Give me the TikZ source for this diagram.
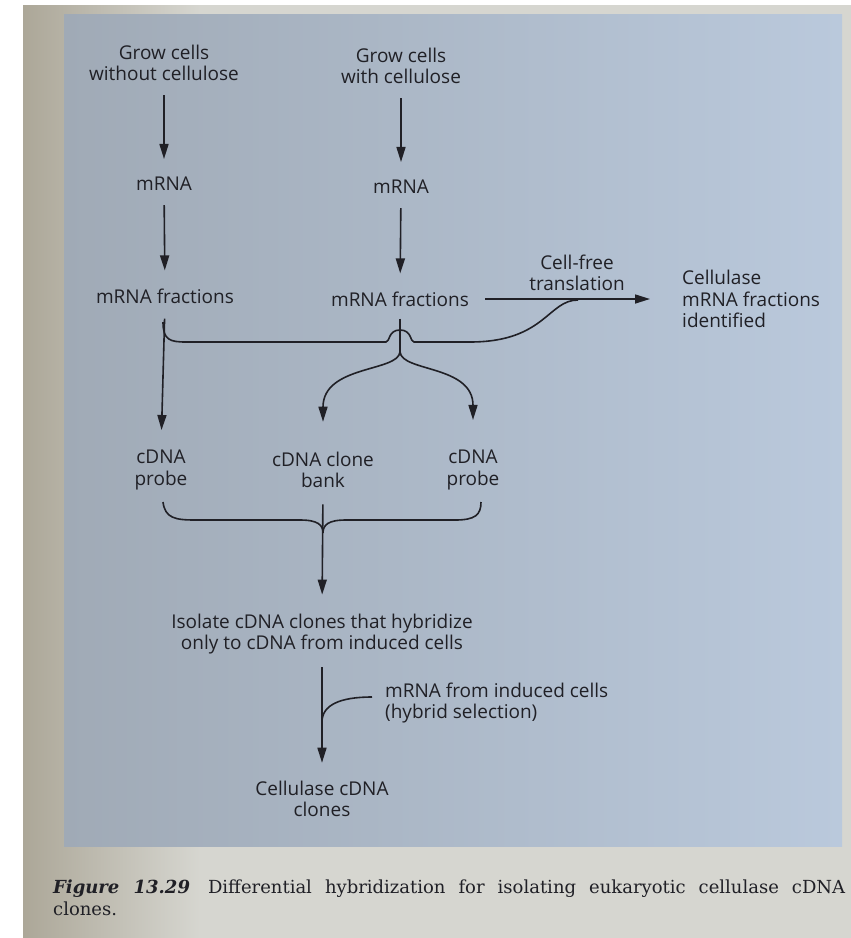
\documentclass[tikz,border=0pt]{standalone}
\usepackage{fontspec}
\setmainfont{DejaVu Serif}
\setsansfont{Open Sans}
\usetikzlibrary{arrows.meta}
\definecolor{ink}{RGB}{32,32,38}
\definecolor{pagegray}{RGB}{214,214,208}
\definecolor{pageshadow}{RGB}{172,167,152}
\definecolor{blueleft}{RGB}{160,170,182}
\definecolor{blueright}{RGB}{186,201,220}
\begin{document}
\begin{tikzpicture}[x=1pt,y=-1pt,
  lbl/.style={font=\sffamily\fontsize{19}{21.5}\selectfont,text=ink,align=center,inner sep=0pt},
  line/.style={draw=ink,line width=1.6pt},
  arr/.style={line,-{Triangle[length=15pt,width=9pt]},shorten <=14pt,shorten >=18pt}]
\useasboundingbox (0,0) rectangle (851,938);
\fill[white] (0,0) rectangle (851,938);
\shade[left color=pageshadow,right color=pagegray] (23,5) rectangle (200,938);
\fill[pagegray] (200,5) rectangle (851,938);
\shade[left color=blueleft,right color=blueright] (64,14) rectangle (842,846);

\node[lbl] (gw) at (164,63) {Grow cells\\without cellulose};
\node[lbl] (m1) at (164,184) {mRNA};
\node[lbl] (f1) at (165,296) {mRNA fractions};
\node[lbl] (gc) at (401,66) {Grow cells\\with cellulose};
\node[lbl] (m2) at (401,187) {mRNA};
\node[lbl] (f2) at (400,299) {mRNA fractions};
\node[lbl] (cft) at (577,273) {Cell-free\\translation};
\node[lbl,anchor=west,align=left] (ident) at (682,299) {Cellulase\\mRNA fractions\\identified};
\node[lbl] (p1) at (161,470) {cDNA\\probe};
\node[lbl] (bank) at (323,470) {cDNA clone\\bank};
\node[lbl] (p2) at (473,470) {cDNA\\probe};
\node[lbl] (iso) at (322,634) {Isolate cDNA clones that hybridize\\only to cDNA from induced cells};
\node[lbl,anchor=west,align=left] (hyb) at (385,703) {mRNA from induced cells\\(hybrid selection)};
\node[lbl] (clones) at (322,799) {Cellulase cDNA\\clones};
\node[anchor=north west,text width=792pt,align=justify,inner sep=0pt,text=ink,
  font=\fontsize{18}{22}\selectfont] (cap) at (53,880)
  {{\bfseries\itshape Figure 13.29}\quad{}Differential hybridization for isolating eukaryotic cellulase cDNA\linebreak clones.};

\draw[arr] (gw) -- (m1);
\draw[arr] (m1) -- (f1);
\draw[arr] (gc) -- (m2);
\draw[arr] (m2) -- (f2);
\draw[arr,shorten <=16pt,shorten >=32pt] (f2.east) -- (ident.west);
\draw[arr,shorten <=15pt,shorten >=20pt] (f1.south) -- (p1.north);
\coordinate (j1) at (163,322);
\coordinate (j2) at (578,300);
\draw[line] (j1) .. controls (163,340) and (170,342) .. (186,342) -- (386,342)
  .. controls (390,342) and (388,330) .. (400,330)
  .. controls (412,330) and (410,342) .. (414,342) -- (470,342)
  .. controls (545,342) and (548,300) .. (j2);
\coordinate (s) at (400,352);
\draw[line,shorten <=12pt] (f2.south) -- (s);
\draw[arr,shorten <=0pt,shorten >=30pt] (s) .. controls (398,372) and (323,365) .. (bank.north);
\draw[arr,shorten <=0pt,shorten >=30pt] (s) .. controls (402,372) and (473,365) .. (p2.north);
\coordinate (b1) at (163,502);
\coordinate (b2) at (481,502);
\coordinate (b3) at (323,533);
\draw[line] (b1) .. controls (165,518) and (175,520) .. (195,520) -- (300,520)
  .. controls (318,520) and (323,525) .. (b3)
  .. controls (323,525) and (328,520) .. (346,520) -- (455,520)
  .. controls (475,520) and (481,515) .. (b2);
\draw[arr,shorten <=16pt,shorten >=19pt] (bank.south) -- (iso.north);
\draw[arr,shorten <=13pt,shorten >=18pt] (iso.south) -- (clones.north);
\coordinate (hj) at (372,697);
\coordinate (hk) at (322,722);
\draw[line] (hj) .. controls (340,697) and (322,705) .. (hk);
\end{tikzpicture}
\end{document}
